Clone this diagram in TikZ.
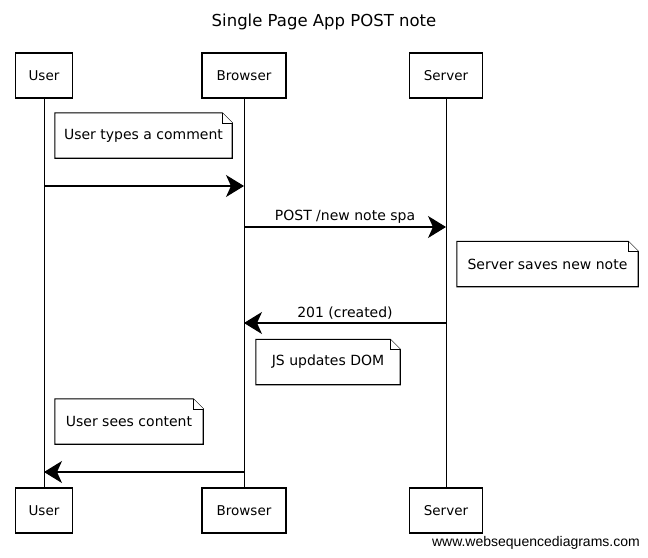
\documentclass[tikz,border=0pt]{standalone}
\usepackage{fontspec}
\setmainfont{DejaVu Sans}
\newfontfamily\wsdfont{Liberation Sans}
\usetikzlibrary{arrows.meta}
\definecolor{color_seq_line}{HTML}{000000}
\def\seqlinewidth{1.1pt}
\def\seqfold{10pt}
\def\seqnote#1{
    \draw[notebox] (#1.north west) -- ([xshift=-\seqfold]#1.north east) -- ([yshift=-\seqfold]#1.north east) -- (#1.south east) -- (#1.south west) -- cycle;
    \draw[notebox,line width=0.6pt] ([xshift=-\seqfold]#1.north east) |- ([yshift=-\seqfold]#1.north east);
}

\begin{document}
\begin{tikzpicture}[x=1pt,y=-1pt,
    actor/.style={draw=color_seq_line, line width=\seqlinewidth, minimum height=45pt, inner sep=0pt, font=\fontsize{13.5}{15}\selectfont},
    note/.style={minimum height=45pt, inner sep=0pt, font=\fontsize{14}{16}\selectfont},
    notebox/.style={draw=color_seq_line, line width=\seqlinewidth, fill=white},
    lifeline/.style={color_seq_line, line width=0.8pt},
    msg/.style={color_seq_line, line width=\seqlinewidth, -{Stealth[length=18pt,width=22pt,inset=5pt]}},
    msglabel/.style={font=\fontsize{14}{16}\selectfont, inner sep=1pt}]
        \useasboundingbox (0,0) rectangle (648,557);
        \node (title) at (324,22) {\fontsize{16.5}{19}\selectfont Single Page App POST note};
        % participants
        \node[actor, minimum width=57pt] (usertop) at (44,75.5) {User};
        \node[actor, minimum width=84pt] (browsertop) at (244,75.5) {Browser};
        \node[actor, minimum width=73pt] (servertop) at (446,75.5) {Server};
        \node[actor, minimum width=57pt] (userbot) at (44,510.5) {User};
        \node[actor, minimum width=84pt] (browserbot) at (244,510.5) {Browser};
        \node[actor, minimum width=73pt] (serverbot) at (446,510.5) {Server};
        \draw[lifeline] (usertop) -- (userbot);
        \draw[lifeline] (browsertop) -- (browserbot);
        \draw[lifeline] (servertop) -- (serverbot);
        % notes
        \node[note, minimum width=177pt] (typenote) at (143.5,135.5) {};
        \seqnote{typenote}
        \node[note] at (typenote) {User types a comment};
        \node[note, minimum width=181pt] (savenote) at (547.5,264) {};
        \seqnote{savenote}
        \node[note] at (savenote) {Server saves new note};
        \node[note, minimum width=144pt] (domnote) at (328,362) {};
        \seqnote{domnote}
        \node[note] at (domnote) {JS updates DOM};
        \node[note, minimum width=148pt] (seenote) at (129,421.5) {};
        \seqnote{seenote}
        \node[note] at (seenote) {User sees content};
        % messages
        \coordinate (u1) at (usertop |- 0,186);
        \coordinate (b1) at (browsertop |- 0,186);
        \coordinate (b2) at (browsertop |- 0,227);
        \coordinate (s2) at (servertop |- 0,227);
        \coordinate (s3) at (servertop |- 0,323);
        \coordinate (b3) at (browsertop |- 0,323);
        \coordinate (b4) at (browsertop |- 0,472);
        \coordinate (u4) at (usertop |- 0,472);
        \draw[msg] (u1) -- (b1);
        \draw[msg] (b2) -- node[msglabel, above=2pt] {POST /new note spa} (s2);
        \draw[msg] (s3) -- node[msglabel, above=2pt] {201 (created)} (b3);
        \draw[msg] (b4) -- (u4);
        \node[font=\wsdfont\fontsize{14}{16}\selectfont, anchor=east, inner sep=0pt] (wsd) at (640,543) {www.websequencediagrams.com};
    \end{tikzpicture}
\end{document}
